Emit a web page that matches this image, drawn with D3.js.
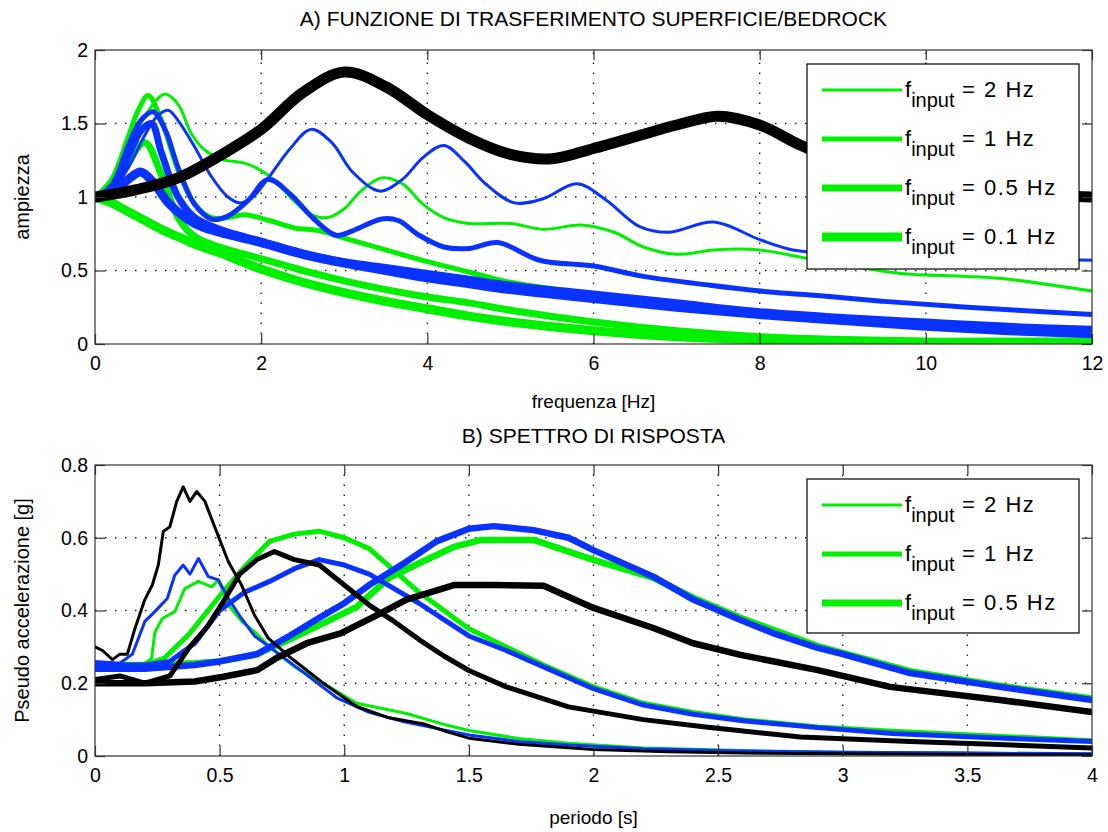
<!DOCTYPE html>
<html>
<head>
<meta charset="utf-8">
<script src="https://d3js.org/d3.v7.min.js"></script>
<style>
  body { margin: 0; background: #fff; }
  text { font-family: Arial, "Liberation Sans", sans-serif; fill: #000; }
</style>
</head>
<body>
<svg id="chart" width="1108" height="832"></svg>
<script>
// ---- A) transfer function, amplitude vs frequency [Hz] ----
var freqBlack = [0,0.5,1,1.5,2,2.5,3,3.5,4,4.5,5,5.5,6,6.5,7,7.5,8,8.5,9,9.5,10,10.5,11,11.5,12];
var ampBlack  = [1.00,1.05,1.13,1.28,1.46,1.71,1.85,1.75,1.56,1.40,1.29,1.26,1.33,1.41,1.49,1.55,1.49,1.35,1.24,1.15,1.09,1.05,1.02,1.01,1.00];

var freqGreen2 = [0,0.2,0.4,0.6,0.84,1.0,1.16,1.3,1.5,1.8,2.0,2.2,2.4,2.6,2.8,3.0,3.2,3.45,3.7,3.95,4.2,4.5,5.0,5.4,5.85,6.25,6.6,7.0,7.45,8.0,8.5,9.0,9.7,10.5,11,12];
var ampGreen2  = [1.00,1.06,1.30,1.55,1.70,1.63,1.43,1.33,1.26,1.23,1.18,1.09,0.97,0.88,0.86,0.92,1.04,1.13,1.09,0.95,0.86,0.82,0.82,0.78,0.81,0.76,0.66,0.61,0.64,0.64,0.59,0.54,0.48,0.46,0.44,0.36];
var freqGreen1 = [0,0.2,0.4,0.52,0.64,0.8,1.0,1.2,1.4,1.6,1.8,2.1,2.4,2.7,3.0,3.5,4.0,4.5,5,6,7,8,9,10,11,12];
var ampGreen1  = [1.00,1.12,1.41,1.59,1.69,1.52,1.18,0.95,0.86,0.86,0.88,0.84,0.79,0.77,0.72,0.64,0.56,0.49,0.42,0.34,0.28,0.22,0.18,0.14,0.11,0.09];
var freqGreen05 = [0,0.2,0.4,0.6,0.8,1.0,1.2,1.5,2.0,2.5,3.0,3.5,4.0,4.5,5,6,7,8,9,10,11,12];
var ampGreen05  = [1.00,1.05,1.24,1.37,1.15,0.86,0.73,0.66,0.58,0.50,0.43,0.37,0.32,0.28,0.23,0.15,0.09,0.05,0.03,0.02,0.02,0.02];
var freqGreen01 = [0,0.2,0.4,0.6,0.8,1.0,1.2,1.5,2.0,2.5,3.0,3.5,4.0,4.5,5,6,7,8,9,10,11,12];
var ampGreen01  = [1.00,0.96,0.90,0.84,0.78,0.73,0.68,0.62,0.51,0.42,0.35,0.29,0.24,0.19,0.15,0.09,0.05,0.03,0.02,0.01,0.01,0.01];

var freqBlue2 = [0,0.2,0.4,0.6,0.75,0.88,1.0,1.2,1.4,1.6,1.75,1.9,2.1,2.35,2.6,2.85,3.1,3.43,3.7,3.95,4.2,4.45,4.7,5.05,5.4,5.8,6.15,6.55,6.9,7.45,8.0,8.4,9.0,10,11,12];
var ampBlue2  = [1.00,1.04,1.20,1.42,1.55,1.59,1.52,1.34,1.14,1.00,0.96,1.00,1.14,1.33,1.46,1.37,1.17,1.04,1.12,1.27,1.35,1.24,1.09,0.96,0.99,1.09,0.98,0.80,0.76,0.83,0.71,0.64,0.61,0.59,0.58,0.57];
var freqBlue1 = [0,0.2,0.4,0.55,0.7,0.85,1.0,1.2,1.4,1.6,1.85,2.08,2.35,2.6,2.9,3.1,3.45,3.65,3.9,4.2,4.5,4.85,5.35,6.0,6.6,7.4,8.2,8.7,9.5,10.5,12];
var ampBlue1  = [1.00,1.08,1.35,1.52,1.58,1.45,1.20,0.95,0.85,0.87,0.98,1.12,1.02,0.87,0.74,0.77,0.85,0.84,0.74,0.66,0.65,0.69,0.57,0.53,0.46,0.40,0.35,0.33,0.29,0.25,0.20];
var freqBlue05 = [0,0.2,0.4,0.55,0.68,0.8,1.0,1.2,1.5,2.0,2.5,3.0,3.5,4.0,4.5,5,6,7,8,9,10,11,12];
var ampBlue05  = [1.00,1.05,1.28,1.45,1.50,1.30,1.00,0.86,0.78,0.70,0.62,0.56,0.52,0.48,0.44,0.40,0.34,0.28,0.22,0.18,0.15,0.12,0.10];
var freqBlue01 = [0,0.2,0.4,0.55,0.7,0.9,1.2,1.5,2.0,2.5,3.0,3.5,4.0,4.5,5,6,7,8,9,10,11,12];
var ampBlue01  = [1.00,1.03,1.12,1.17,1.10,0.95,0.82,0.76,0.69,0.61,0.55,0.50,0.45,0.41,0.37,0.31,0.25,0.20,0.16,0.12,0.09,0.07];

// ---- B) response spectra, pseudo acceleration [g] vs period [s] ----
var perGreen2 = [0,0.1,0.2,0.227,0.24,0.27,0.32,0.36,0.415,0.468,0.495,0.535,0.588,0.64,0.70,0.80,0.916,1.05,1.25,1.41,1.5,1.7,1.9,2.2,2.6,3.0,3.5,4.0];
var psaGreen2 = [0.25,0.25,0.255,0.268,0.34,0.378,0.397,0.46,0.48,0.465,0.484,0.415,0.37,0.342,0.30,0.245,0.20,0.145,0.117,0.085,0.07,0.048,0.035,0.022,0.015,0.01,0.008,0.006];
var perBlue2 = [0,0.1,0.15,0.2,0.24,0.29,0.32,0.354,0.381,0.415,0.455,0.495,0.535,0.588,0.64,0.70,0.836,0.97,1.1,1.24,1.37,1.5,1.7,1.9,2.2,2.6,3.0,3.5,4.0];
var psaBlue2 = [0.26,0.255,0.28,0.37,0.397,0.433,0.497,0.525,0.50,0.543,0.493,0.484,0.433,0.378,0.33,0.30,0.23,0.16,0.12,0.094,0.076,0.058,0.04,0.03,0.02,0.014,0.01,0.008,0.006];
var perBlack2 = [0,0.03,0.07,0.1,0.13,0.16,0.2,0.23,0.254,0.274,0.3,0.328,0.354,0.381,0.408,0.441,0.48,0.535,0.588,0.64,0.695,0.78,0.916,1.05,1.18,1.32,1.41,1.5,1.7,2.0,2.3,2.6,3.0,3.5,4.0];
var psaBlack2 = [0.30,0.29,0.265,0.28,0.28,0.35,0.43,0.47,0.525,0.617,0.63,0.70,0.74,0.70,0.727,0.70,0.63,0.534,0.47,0.387,0.324,0.273,0.20,0.136,0.105,0.088,0.067,0.049,0.032,0.018,0.012,0.008,0.006,0.004,0.003];

var perGreen1 = [0,0.1,0.2,0.28,0.38,0.5,0.6,0.7,0.8,0.9,1.0,1.1,1.2,1.3,1.4,1.5,1.65,1.8,2.0,2.2,2.4,2.6,2.9,3.2,3.6,4.0];
var psaGreen1 = [0.25,0.25,0.25,0.27,0.337,0.44,0.52,0.59,0.61,0.618,0.60,0.57,0.51,0.45,0.40,0.35,0.30,0.25,0.19,0.145,0.12,0.10,0.08,0.068,0.055,0.042];
var perBlue1 = [0,0.1,0.2,0.3,0.4,0.5,0.6,0.7,0.8,0.9,1.0,1.1,1.2,1.3,1.4,1.5,1.65,1.8,2.0,2.2,2.4,2.6,2.9,3.2,3.6,4.0];
var psaBlue1 = [0.25,0.25,0.25,0.26,0.31,0.40,0.45,0.48,0.515,0.54,0.525,0.50,0.46,0.42,0.375,0.33,0.29,0.245,0.185,0.14,0.115,0.097,0.078,0.062,0.05,0.04];
var perBlack1 = [0,0.1,0.2,0.3,0.38,0.45,0.52,0.58,0.65,0.72,0.8,0.9,1.0,1.1,1.2,1.3,1.4,1.5,1.65,1.9,2.2,2.45,2.83,3.27,3.6,4.0];
var psaBlack1 = [0.21,0.22,0.20,0.22,0.30,0.355,0.43,0.50,0.54,0.562,0.54,0.525,0.47,0.415,0.37,0.32,0.275,0.235,0.19,0.135,0.10,0.08,0.052,0.04,0.032,0.022];

var perGreen05 = [0,0.2,0.4,0.5,0.65,0.78,0.9,1.05,1.18,1.3,1.44,1.55,1.76,2.0,2.24,2.4,2.59,2.9,3.27,3.63,4.0];
var psaGreen05 = [0.25,0.25,0.255,0.26,0.28,0.32,0.36,0.41,0.49,0.53,0.575,0.594,0.594,0.539,0.49,0.435,0.38,0.302,0.233,0.193,0.158];
var perBlue05 = [0,0.2,0.4,0.5,0.65,0.78,0.9,1.0,1.1,1.24,1.37,1.5,1.6,1.76,1.9,2.0,2.24,2.4,2.59,2.72,2.9,3.0,3.27,3.63,4.0];
var psaBlue05 = [0.24,0.24,0.25,0.26,0.28,0.33,0.38,0.42,0.47,0.53,0.59,0.625,0.632,0.621,0.60,0.566,0.493,0.43,0.374,0.338,0.297,0.28,0.228,0.19,0.154];
var perBlack05 = [0,0.2,0.4,0.515,0.65,0.73,0.85,0.985,1.12,1.25,1.44,1.6,1.8,2.0,2.24,2.4,2.59,2.9,3.19,3.63,4.0];
var psaBlack05 = [0.20,0.20,0.205,0.218,0.236,0.27,0.31,0.337,0.383,0.43,0.47,0.47,0.468,0.407,0.352,0.31,0.278,0.236,0.19,0.154,0.121];

// ticks and legend labels
var freqTicks = [0,2,4,6,8,10,12];
var ampTicks = [0,0.5,1,1.5,2];
var perTicks = [0,0.5,1,1.5,2,2.5,3,3.5,4];
var psaTicks = [0,0.2,0.4,0.6,0.8];
var inputLabelsA = ["2 Hz","1 Hz","0.5 Hz","0.1 Hz"];
var inputLabelsB = ["2 Hz","1 Hz","0.5 Hz"];

var GREEN = "#00f000", BLUE = "#0a32ff", BLACK = "#000";
var widths = [3, 5, 7, 9];

function zip(xs, ys){ return xs.map(function(v,i){ return [v, ys[i]]; }); }

var seriesA = [
  {d: zip(freqGreen01, ampGreen01), c: GREEN, w: widths[3]},
  {d: zip(freqGreen05, ampGreen05), c: GREEN, w: widths[2]},
  {d: zip(freqGreen1, ampGreen1), c: GREEN, w: widths[1]},
  {d: zip(freqGreen2, ampGreen2), c: GREEN, w: widths[0]},
  {d: zip(freqBlue01, ampBlue01), c: BLUE, w: widths[3]},
  {d: zip(freqBlue05, ampBlue05), c: BLUE, w: widths[2]},
  {d: zip(freqBlue1, ampBlue1), c: BLUE, w: widths[1]},
  {d: zip(freqBlue2, ampBlue2), c: BLUE, w: widths[0]},
  {d: zip(freqBlack, ampBlack), c: BLACK, w: 11}
];
var seriesB = [
  {d: zip(perGreen05, psaGreen05), c: GREEN, w: 6.5},
  {d: zip(perGreen1, psaGreen1), c: GREEN, w: 5},
  {d: zip(perGreen2, psaGreen2), c: GREEN, w: 3},
  {d: zip(perBlue05, psaBlue05), c: BLUE, w: 6.5},
  {d: zip(perBlue1, psaBlue1), c: BLUE, w: 5},
  {d: zip(perBlue2, psaBlue2), c: BLUE, w: 3},
  {d: zip(perBlack05, psaBlack05), c: BLACK, w: 6.5},
  {d: zip(perBlack1, psaBlack1), c: BLACK, w: 5},
  {d: zip(perBlack2, psaBlack2), c: BLACK, w: 3}
];

var svg = d3.select("#chart");
var fmt = d3.format("~g");

function panel(cfg){
  var x = d3.scaleLinear().domain(cfg.xd).range([cfg.l, cfg.r]);
  var y = d3.scaleLinear().domain(cfg.yd).range([cfg.b, cfg.t]);
  var g = svg.append("g");
  var id = "clip" + cfg.name;
  svg.append("clipPath").attr("id", id).append("rect")
    .attr("x", cfg.l).attr("y", cfg.t).attr("width", cfg.r - cfg.l).attr("height", cfg.b - cfg.t);

  // dotted grid
  var grid = g.append("g").attr("stroke", "#222").attr("stroke-width", 1.4).attr("stroke-dasharray", "1.5,8.5");
  cfg.xt.filter(function(v){ return v > cfg.xd[0] && v < cfg.xd[1]; }).forEach(function(v){
    grid.append("line").attr("x1", x(v)).attr("x2", x(v)).attr("y1", cfg.b).attr("y2", cfg.t);
  });
  cfg.yt.filter(function(v){ return v > cfg.yd[0] && v < cfg.yd[1]; }).forEach(function(v){
    grid.append("line").attr("y1", y(v)).attr("y2", y(v)).attr("x1", cfg.l).attr("x2", cfg.r);
  });

  // curves
  var line = d3.line().x(function(p){ return x(p[0]); }).y(function(p){ return y(p[1]); }).curve(cfg.curve);
  g.append("g").attr("clip-path", "url(#" + id + ")").selectAll("path").data(cfg.series).enter().append("path")
    .attr("d", function(s){ return line(s.d); })
    .attr("fill", "none").attr("stroke", function(s){ return s.c; })
    .attr("stroke-width", function(s){ return s.w; })
    .attr("stroke-linejoin", "round").attr("stroke-linecap", "round");

  // axes, ticks inward on all four sides
  var xb = d3.axisBottom(x).tickValues(cfg.xt).tickFormat(fmt).tickSizeInner(-10).tickSizeOuter(0).tickPadding(12);
  var yl = d3.axisLeft(y).tickValues(cfg.yt).tickFormat(fmt).tickSizeInner(-10).tickSizeOuter(0).tickPadding(7);
  var xtp = d3.axisTop(x).tickValues(cfg.xt).tickFormat("").tickSizeInner(-10).tickSizeOuter(0);
  var yr = d3.axisRight(y).tickValues(cfg.yt).tickFormat("").tickSizeInner(-10).tickSizeOuter(0);
  [[xb, "translate(0," + cfg.b + ")"], [yl, "translate(" + cfg.l + ",0)"],
   [xtp, "translate(0," + cfg.t + ")"], [yr, "translate(" + cfg.r + ",0)"]].forEach(function(a){
    var ax = g.append("g").attr("transform", a[1]).call(a[0]);
    ax.select(".domain").remove();
    ax.selectAll("line").attr("stroke", "#333").attr("stroke-width", 1.2);
    ax.selectAll("text").attr("font-size", 19.5).attr("fill", "#000").attr("font-family", "Arial, 'Liberation Sans', sans-serif");
  });
  g.append("rect").attr("x", cfg.l).attr("y", cfg.t).attr("width", cfg.r - cfg.l).attr("height", cfg.b - cfg.t)
    .attr("fill", "none").attr("stroke", "#333").attr("stroke-width", 1.2);

  // titles
  g.append("text").attr("x", (cfg.l + cfg.r) / 2).attr("y", cfg.titleY).attr("text-anchor", "middle")
    .attr("font-size", 21).text(cfg.title);
  g.append("text").attr("x", (cfg.l + cfg.r) / 2).attr("y", cfg.xlabY).attr("text-anchor", "middle")
    .attr("font-size", 19).text(cfg.xlab);
  g.append("text").attr("transform", "translate(29," + ((cfg.t + cfg.b) / 2) + ") rotate(-90)")
    .attr("text-anchor", "middle").attr("font-size", 20).text(cfg.ylab);

  // legend
  var lg = g.append("g");
  lg.append("rect").attr("x", 807).attr("y", cfg.legY).attr("width", 272).attr("height", cfg.legH)
    .attr("fill", "#fff").attr("stroke", "#000").attr("stroke-width", 1.2);
  cfg.legend.forEach(function(lab, i){
    var cy = cfg.legY + 26 + i * 49;
    lg.append("line").attr("x1", 822).attr("x2", 902).attr("y1", cy).attr("y2", cy)
      .attr("stroke", GREEN).attr("stroke-width", widths[i]);
    var t = lg.append("text").attr("x", 905).attr("y", cy + 7).attr("font-size", 22);
    t.append("tspan").text("f");
    t.append("tspan").attr("dy", 10).attr("font-size", 20).text("input");
    t.append("tspan").attr("dy", -10).attr("letter-spacing", 1.5).text(" = " + lab);
  });
}

panel({name: "A", l: 95, r: 1092, t: 50, b: 344, xd: [0, 12], yd: [0, 2], xt: freqTicks, yt: ampTicks,
  series: seriesA, curve: d3.curveCatmullRom.alpha(0.5),
  title: "A) FUNZIONE DI TRASFERIMENTO SUPERFICIE/BEDROCK", titleY: 26,
  xlab: "frequenza [Hz]", xlabY: 408, ylab: "ampiezza",
  legend: inputLabelsA, legY: 64, legH: 205});

panel({name: "B", l: 95, r: 1092, t: 465, b: 756, xd: [0, 4], yd: [0, 0.8], xt: perTicks, yt: psaTicks,
  series: seriesB, curve: d3.curveLinear,
  title: "B) SPETTRO DI RISPOSTA", titleY: 443,
  xlab: "periodo [s]", xlabY: 824, ylab: "Pseudo accelerazione [g]",
  legend: inputLabelsB, legY: 479, legH: 154});
</script>
</body>
</html>
